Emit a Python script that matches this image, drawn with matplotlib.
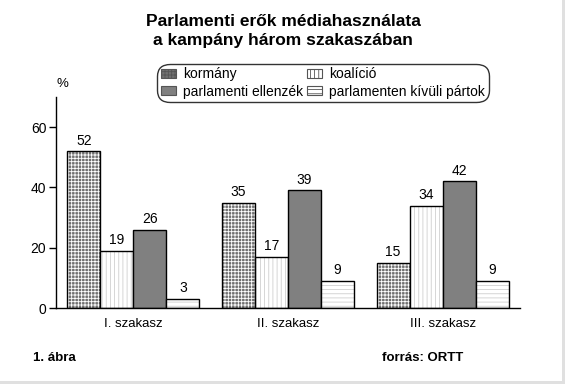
import matplotlib.pyplot as plt
import matplotlib.patches as mpatches
import numpy as np

plt.rcParams['font.family'] = ['Liberation Sans', 'DejaVu Sans']
plt.rcParams['hatch.linewidth'] = 0.6

# data
categories = ['I. szakasz', 'II. szakasz', 'III. szakasz']
series = ['kormány', 'koalíció', 'parlamenti ellenzék', 'parlamenten kívüli pártok']
kormany = [52, 35, 15]
koalicio = [19, 17, 34]
ellenzek = [26, 39, 42]
kivuli = [3, 9, 9]
values = [kormany, koalicio, ellenzek, kivuli]

# styles: facecolor, hatch colour, hatch
styles = [('#707070', 'white', '+++++'),
          ('white', '#cfcfcf', '||||'),
          ('#808080', '#808080', None),
          ('white', '#cfcfcf', '----')]

fig = plt.figure(figsize=(5.65, 3.84), dpi=100)
ax = fig.add_axes([56/565, 1-308/384, (520-56)/565, (308-97)/384])

x = np.arange(len(categories)) + 0.5
w = 33/154.7
handles = []
for i, (vals, (fc, hc, h)) in enumerate(zip(values, styles)):
    pos = x + (i - 1.5) * w
    ax.bar(pos, vals, w, facecolor=fc, edgecolor=hc, hatch=h, linewidth=0)
    ax.bar(pos, vals, w, fill=False, edgecolor='black', linewidth=1.0)
    for px, v in zip(pos, vals):
        ax.text(px, v + 1.2, str(v), ha='center', va='bottom', fontsize=10)
    handles.append(mpatches.Patch(facecolor=fc, edgecolor='#555555', hatch=h, linewidth=0.8))

ax.set_xlim(0, 3)
ax.set_ylim(0, 70)
ax.set_yticks([0, 20, 40, 60])
ax.set_xticks(x)
ax.set_xticklabels(categories, fontsize=9.5)
ax.tick_params(axis='x', length=0, pad=7)
ax.tick_params(axis='y', length=5, width=1, labelsize=10, pad=2)
for s in ['top', 'right']:
    ax.spines[s].set_visible(False)
for s in ['left', 'bottom']:
    ax.spines[s].set_linewidth(1.0)

# legend fills column-wise, so order to get rows: kormány/koalíció, ellenzék/kívüli
order = [0, 2, 1, 3]
leg = fig.legend([handles[k] for k in order], [series[k] for k in order], ncol=2,
                 loc='center', bbox_to_anchor=(323/565, 1-83/384), fontsize=10,
                 frameon=True, fancybox=True, edgecolor='black',
                 handlelength=1.1, handleheight=0.6, handletextpad=0.5,
                 columnspacing=0.3, labelspacing=0.25, borderpad=0.25,
                 borderaxespad=0)
leg.get_frame().set_linewidth(1.0)
leg.get_frame().set_boxstyle('round', pad=0, rounding_size=0.9)

fig.text(283/565, 1-31/384, 'Parlamenti erők médiahasználata\na kampány három szakaszában',
         ha='center', va='center', fontsize=12.5, fontweight='bold', linespacing=1.25)
fig.text(62/565, 1-84/384, '%', ha='center', va='center', fontsize=9.5)
fig.text(33/565, 1-358/384, '1. ábra', ha='left', va='center', fontsize=9.5, fontweight='bold')
fig.text(463/565, 1-358/384, 'forrás: ORTT', ha='right', va='center', fontsize=9.5, fontweight='bold')

# light gray border at right and bottom
fig.patches.append(mpatches.Rectangle((0, 0), 1, 3/384, transform=fig.transFigure,
                                      facecolor='#e0e0e0', edgecolor='none'))
fig.patches.append(mpatches.Rectangle((1-3/565, 0), 3/565, 1, transform=fig.transFigure,
                                      facecolor='#e0e0e0', edgecolor='none'))

fig.savefig('out.png', dpi=100)
